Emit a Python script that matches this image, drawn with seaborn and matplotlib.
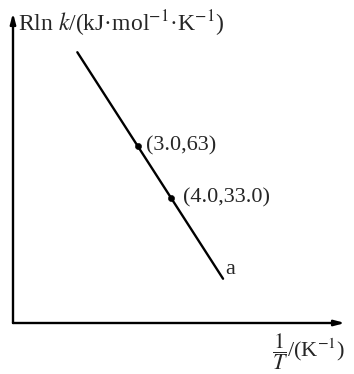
import numpy as np
import pandas as pd
import seaborn as sns
import matplotlib
matplotlib.use("Agg")
import matplotlib.pyplot as plt

# Line a: R ln k against 1/T (schematic)
line_x = [1.2, 5.55]
line_y = [117.0, -13.5]

# Labelled points on the line
point_x = [3.0, 4.0]
point_y = [63.0, 33.0]
point_labels = ["(3.0,63)", "(4.0,33.0)"]

ylabel = r"Rln $k$/(kJ·mol$^{-1}$·K$^{-1}$)"
xlabel = r"$\dfrac{1}{T}$/(K$^{-1}$)"
line_name = "a"

sns.set_style("white")
plt.rcParams["font.family"] = ["Liberation Serif", "DejaVu Serif"]
plt.rcParams["mathtext.fontset"] = "stix"

W, H = 354, 374
fig = plt.figure(figsize=(W / 100, H / 100), dpi=100)
# axes box in pixels: left 13, right 345, top 13, bottom 323
ax = fig.add_axes([13 / W, (H - 323) / H, 332 / W, 310 / H])

df_line = pd.DataFrame({"x": line_x, "y": line_y})
df_pts = pd.DataFrame({"x": point_x, "y": point_y, "label": point_labels})

sns.lineplot(data=df_line, x="x", y="y", ax=ax, color="black", lw=1.7)
sns.scatterplot(data=df_pts, x="x", y="y", ax=ax, color="black", s=20,
                edgecolor="black", zorder=3)

ax.set_xlim(-0.72, 9.19)
ax.set_ylim(-39, 139.6)
ax.set_xticks([])
ax.set_yticks([])
ax.set_xlabel("")
ax.set_ylabel("")
for s in ax.spines.values():
    s.set_visible(False)

# axes drawn as arrows
arrow = dict(arrowstyle="-|>,head_length=0.6,head_width=0.16", color="black",
             lw=1.7, shrinkA=0, shrinkB=0)
ax.annotate("", xy=(1.0, 0.0), xytext=(0.0, 0.0), xycoords="axes fraction",
            textcoords="axes fraction", arrowprops=arrow, annotation_clip=False)
ax.annotate("", xy=(0.0, 1.0), xytext=(0.0, 0.0), xycoords="axes fraction",
            textcoords="axes fraction", arrowprops=arrow, annotation_clip=False)

# point labels
offsets = [(8, 0), (12, 0)]
for (px, py, lab), off in zip(zip(point_x, point_y, point_labels), offsets):
    ax.annotate(lab, xy=(px, py), xytext=off, textcoords="offset pixels",
                ha="left", va="center", fontsize=16, annotation_clip=False)

ax.annotate(line_name, xy=(line_x[-1], line_y[-1]), xytext=(2, 9),
            textcoords="offset pixels", ha="left", va="center", fontsize=16)

fig.text(18 / W, 1 - 24 / H, ylabel, ha="left", va="center", fontsize=17)
fig.text(272 / W, 1 - 352 / H, xlabel, ha="left", va="center", fontsize=16)

fig.savefig("out.png", dpi=100)
